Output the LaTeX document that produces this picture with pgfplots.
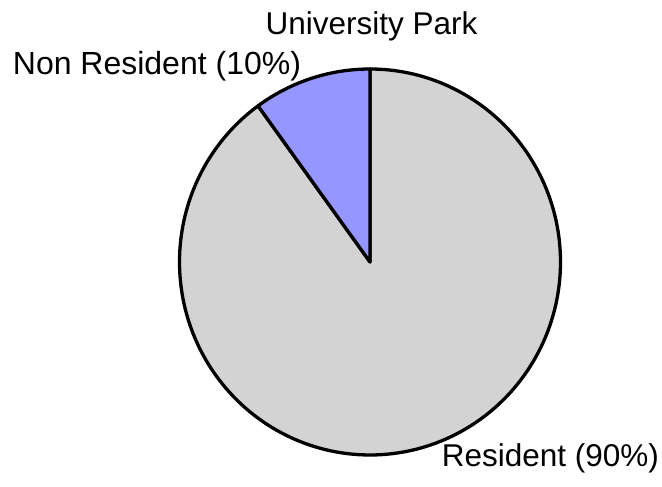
\documentclass[border=0pt]{standalone}
\usepackage{pgfplots}
\pgfplotsset{compat=1.18}
\usepackage{pgfplotstable}
\usepackage{fontspec}
\setmainfont{Liberation Sans}
\definecolor{piegray}{RGB}{211,211,211}
\definecolor{pieblue}{RGB}{150,150,255}
\pgfplotstableread{
label value
Resident 90
NonResident 10
}\piedata
\begin{document}%
\begin{tikzpicture}
\pgfplotstablegetelem{0}{value}\of\piedata
\let\valRes\pgfplotsretval
\pgfplotstablegetelem{1}{value}\of\piedata
\let\valNon\pgfplotsretval
\pgfmathsetmacro\aStart{90}
\pgfmathsetmacro\aMid{90+3.6*\valNon}
\pgfmathsetmacro\aEnd{\aMid+3.6*\valRes}
\begin{axis}[
  at={(0,0)}, anchor=south west,
  scale only axis, width=662pt, height=487pt,
  xmin=0, xmax=662, ymin=0, ymax=487,
  hide axis, clip=false,
]
\addplot[draw=black, line width=3.3pt, line join=round, fill=piegray, domain=\aMid:\aEnd, samples=241]
  ({370+190.5*cos(x)},{225+193*sin(x)}) -- (axis cs:370,225) -- cycle;
\addplot[draw=black, line width=3.3pt, line join=round, fill=pieblue, domain=\aStart:\aMid, samples=41]
  ({370+190.5*cos(x)},{225+193*sin(x)}) -- (axis cs:370,225) -- cycle;
\node[anchor=base, inner sep=0pt, font=\fontsize{31.5}{36}\selectfont] at (axis cs:371.5,452) {University Park};
\node[anchor=base west, inner sep=0pt, font=\fontsize{32}{36}\selectfont] at (axis cs:12.7,412) {Non Resident (10\%)};
\node[anchor=base west, inner sep=0pt, font=\fontsize{31.5}{36}\selectfont] at (axis cs:441.7,20.3) {Resident (90\%)};
\coordinate (BL) at (axis cs:0,0);
\coordinate (TR) at (axis cs:662,487);
\end{axis}
\pgfresetboundingbox
\path[use as bounding box] (BL) rectangle (TR);
\end{tikzpicture}%
\end{document}
